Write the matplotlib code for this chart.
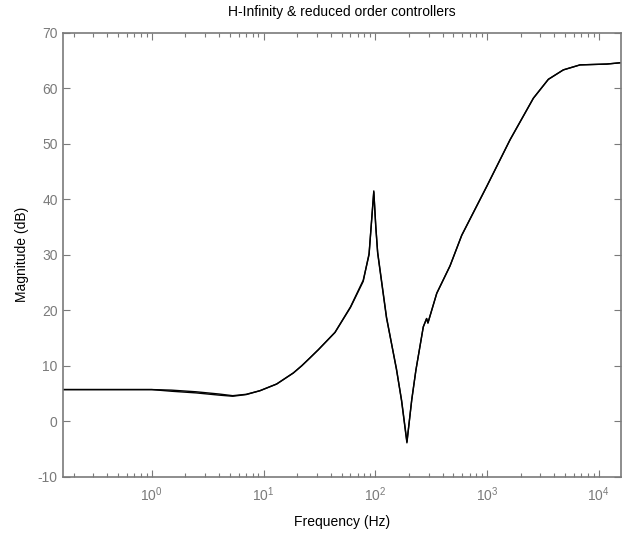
"""
H-Infinity & reduced order controllers - magnitude response
"""

### Import modules
import numpy as np
import matplotlib
matplotlib.use('Agg')
import matplotlib.pyplot as plt
from matplotlib.ticker import LogLocator, NullFormatter, MultipleLocator

### Data
freq = [0.159, 0.3, 0.6, 1.0, 1.5, 2.5, 4.0, 5.3, 7.0, 9.3, 13.1, 18.5, 22.0,
        26.0, 31.0, 43.6, 60.0, 78.0, 88.0, 97.0, 101.0, 105.0, 110.0, 126.0,
        155.0, 172.0, 192.0, 212.0, 231.0, 269.0, 288.0, 296.0, 355.0, 467.0,
        594.0, 994.0, 1607.0, 2600.0, 3540.0, 4820.0, 6800.0, 11790.0, 15915.0]
mag_hinf = [5.7, 5.7, 5.7, 5.7, 5.6, 5.3, 4.9, 4.6, 4.85, 5.5, 6.7, 8.7, 10.0,
            11.4, 12.9, 16.0, 20.6, 25.4, 30.0, 41.5, 35.0, 30.5, 27.5, 18.8,
            9.2, 3.8, -3.7, 3.8, 9.2, 17.0, 18.5, 17.7, 23.05, 28.0,
            33.5, 42.3, 50.7, 58.2, 61.6, 63.3, 64.2, 64.35, 64.6]
mag_red = [5.7, 5.7, 5.7, 5.7, 5.4, 5.1, 4.7, 4.5, 4.8, 5.5, 6.7, 8.7, 10.0,
           11.4, 12.9, 16.0, 20.5, 25.2, 30.2, 41.3, 35.3, 30.3, 27.3, 18.6,
           9.4, 3.6, -3.9, 3.9, 9.2, 17.0, 18.5, 17.7, 23.05, 28.0,
           33.5, 42.3, 50.7, 58.2, 61.6, 63.3, 64.2, 64.35, 64.6]

xlims = [1/(2*np.pi), 1e5/(2*np.pi)]
ylims = [-10, 70]

### Define parameters
plt.rc('font', family=['Liberation Sans', 'DejaVu Sans'], size=10)
plt.rc('mathtext', fontset='custom', rm='Liberation Sans',
       it='Liberation Sans:italic', bf='Liberation Sans:bold')
plt.rc('axes', unicode_minus=False)

gray = '#7a7a7a'

### Create plot
fig = plt.figure(figsize=(6.26, 5.36), dpi=100)
ax = fig.add_axes([0.1, 0.1106, 0.8925, 0.8284])

ax.semilogx(freq, mag_hinf, color='k', linewidth=1.0)
ax.semilogx(freq, mag_red, color='k', linewidth=1.0)

### Limits and ticks
ax.set_xlim(xlims)
ax.set_ylim(ylims)
ax.yaxis.set_major_locator(MultipleLocator(10))
ax.xaxis.set_major_locator(LogLocator(base=10, numticks=10))
ax.xaxis.set_minor_locator(LogLocator(base=10, subs=np.arange(2, 10), numticks=10))
ax.xaxis.set_minor_formatter(NullFormatter())

ax.tick_params(which='both', direction='in', top=True, right=True,
               colors=gray, labelcolor=gray, labelsize=10)
ax.tick_params(which='major', length=5, width=0.8)
ax.tick_params(which='minor', length=3, width=0.8)
ax.tick_params(axis='x', which='major', pad=6)

for sp in ax.spines.values():
    sp.set_color(gray)
    sp.set_linewidth(1.2)

### Labels
ax.set_xlabel('Frequency (Hz)', fontsize=10, color='k', labelpad=8)
ax.set_ylabel('Magnitude (dB)', fontsize=10, color='k', labelpad=6)
ax.set_title('H-Infinity & reduced order controllers', fontsize=10,
             color='k', pad=12)

### Save figure
plt.savefig('out.png', dpi=100)
